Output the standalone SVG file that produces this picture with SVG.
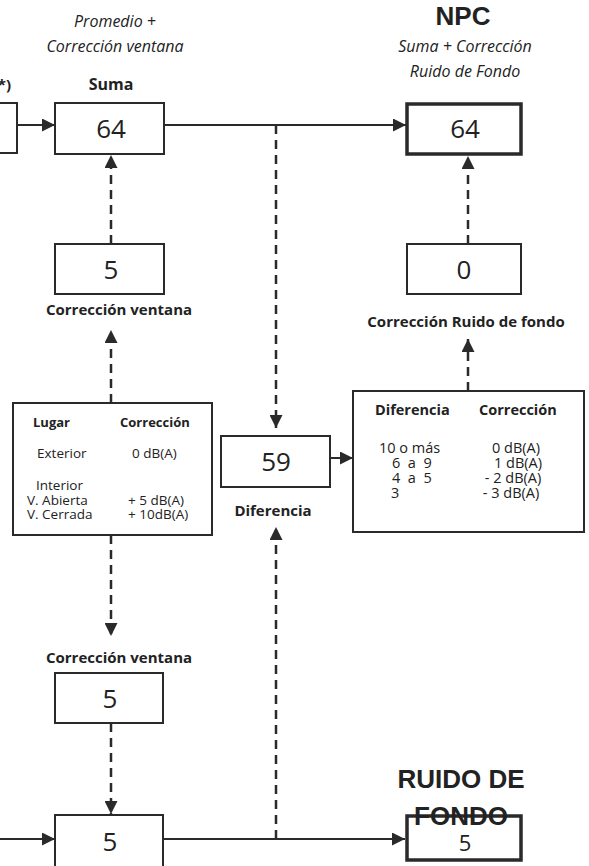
<svg xmlns="http://www.w3.org/2000/svg" width="589" height="866" viewBox="0 0 589 866">
<defs>
<style>
.box{fill:#fff;stroke:#2a2a2a;stroke-width:2}
.thick{fill:#fff;stroke:#2a2a2a;stroke-width:3.5}
.ln{fill:none;stroke:#2a2a2a;stroke-width:2}
.ds{fill:none;stroke:#2a2a2a;stroke-width:2.5;stroke-dasharray:9 6}
text{font-family:"Open Sans",Lato,"Liberation Sans",sans-serif;fill:#222}
.val{font-size:26px;text-anchor:middle}
.b{font-weight:bold;font-size:15px}
.c{text-anchor:middle}
.it{font-style:italic;font-size:16px;text-anchor:middle}
.th{font-weight:bold;font-size:13px}
.t{font-size:13.5px}
.t2{font-size:14.5px}
.th2{font-weight:bold;font-size:14.5px}
.ar{font-family:"Liberation Sans",Arial,sans-serif;font-weight:bold;font-size:26px;text-anchor:middle}
</style>
<marker id="arr" markerUnits="userSpaceOnUse" markerWidth="13" markerHeight="13" refX="13" refY="6.5" orient="auto" viewBox="0 0 13 13">
<path d="M0,0 L13,6.5 L0,13 z" fill="#2a2a2a"/>
</marker>
</defs>
<rect width="589" height="866" fill="#fff"/>

<g id="connectors">
<line class="ln" x1="17" y1="125" x2="55" y2="125" marker-end="url(#arr)"/>
<line class="ln" x1="164" y1="125" x2="406" y2="125" marker-end="url(#arr)"/>
<line class="ds" x1="276" y1="125" x2="276" y2="428" marker-end="url(#arr)"/>
<line class="ds" x1="111" y1="244" x2="111" y2="155" marker-end="url(#arr)"/>
<line class="ds" x1="111" y1="403" x2="111" y2="330" marker-end="url(#arr)"/>
<line class="ds" x1="468" y1="244" x2="468" y2="156" marker-end="url(#arr)"/>
<line class="ds" x1="468" y1="391" x2="468" y2="339" marker-end="url(#arr)"/>
<line class="ln" x1="330" y1="458" x2="353" y2="458" marker-end="url(#arr)"/>
<line class="ds" x1="111" y1="535" x2="111" y2="636" marker-end="url(#arr)"/>
<line class="ds" x1="111" y1="723" x2="111" y2="814" marker-end="url(#arr)"/>
<line class="ln" x1="0" y1="839" x2="55" y2="839" marker-end="url(#arr)"/>
<line class="ln" x1="163" y1="839" x2="405" y2="839" marker-end="url(#arr)"/>
<line class="ds" x1="276" y1="839" x2="276" y2="527" marker-end="url(#arr)"/>
</g>

<g id="n-left">
<rect class="box" x="-10" y="103" width="27" height="50"/>
<text class="b" x="11" y="90" text-anchor="end">(*)</text>
</g>

<g id="n-suma">
<text class="it" x="115" y="27">Promedio +</text>
<text class="it" x="115" y="52">Corrección ventana</text>
<text class="b c" x="111" y="90" style="font-size:16px">Suma</text>
<rect class="box" x="55" y="103" width="109" height="51"/>
<text class="val" x="111" y="138">64</text>
</g>

<g id="n-npc">
<text class="ar" x="463" y="25">NPC</text>
<text class="it" x="465" y="52">Suma + Corrección</text>
<text class="it" x="465" y="77">Ruido de Fondo</text>
<rect class="thick" x="407" y="104" width="114" height="50"/>
<text class="val" x="465" y="138">64</text>
</g>

<g id="n-corr1">
<rect class="box" x="55" y="244" width="109" height="50"/>
<text class="val" x="111" y="279">5</text>
<text class="b c" x="119" y="315">Corrección ventana</text>
</g>

<g id="n-corr-rf">
<rect class="box" x="407" y="244" width="114" height="50"/>
<text class="val" x="464" y="279">0</text>
<text class="b c" x="466" y="327">Corrección Ruido de fondo</text>
</g>

<g id="n-tabla-lugar">
<rect class="box" x="13" y="403" width="199" height="132"/>
<text class="th" x="33" y="427">Lugar</text>
<text class="th" x="120" y="427">Corrección</text>
<text class="t" x="37" y="458">Exterior</text>
<text class="t" x="132" y="458">0 dB(A)</text>
<text class="t" x="36" y="490">Interior</text>
<text class="t" x="27" y="505">V. Abierta</text>
<text class="t" x="128" y="505">+ 5 dB(A)</text>
<text class="t" x="27" y="519">V. Cerrada</text>
<text class="t" x="128" y="519">+ 10dB(A)</text>
</g>

<g id="n-dif">
<rect class="box" x="221" y="436" width="109" height="51"/>
<text class="val" x="276" y="471">59</text>
<text class="b c" x="273" y="516">Diferencia</text>
</g>

<g id="n-tabla-dif">
<rect class="box" x="353" y="391" width="231" height="141"/>
<text class="th2" x="375" y="415">Diferencia</text>
<text class="th2" x="479" y="415">Corrección</text>
<text class="t2" x="379" y="453">10 o más</text>
<text class="t2" x="392" y="468" xml:space="preserve">6  a  9</text>
<text class="t2" x="392" y="483" xml:space="preserve">4  a  5</text>
<text class="t2" x="391" y="498">3</text>
<text class="t2 c" x="516" y="453">0 dB(A)</text>
<text class="t2 c" x="518" y="468">1 dB(A)</text>
<text class="t2 c" x="513" y="483">- 2 dB(A)</text>
<text class="t2 c" x="511" y="498">- 3 dB(A)</text>
</g>

<g id="n-corr2">
<text class="b c" x="119" y="663">Corrección ventana</text>
<rect class="box" x="55" y="673" width="108" height="50"/>
<text class="val" x="110" y="708">5</text>
</g>

<g id="n-suma2">
<rect class="box" x="55" y="815" width="108" height="60"/>
<text class="val" x="110" y="851">5</text>
</g>

<g id="n-ruido">
<rect class="thick" x="407" y="816" width="114" height="44"/>
<text class="ar" x="461" y="788">RUIDO DE</text>
<text class="ar" x="461" y="825">FONDO</text>
<text class="val" x="465" y="851" style="font-size:22px">5</text>
</g>
</svg>
